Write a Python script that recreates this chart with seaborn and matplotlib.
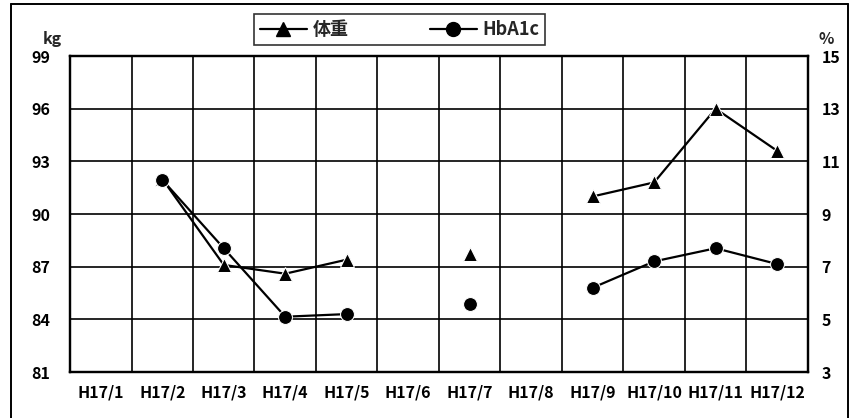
import numpy as np
import pandas as pd
import matplotlib
matplotlib.use("Agg")
import matplotlib.pyplot as plt
from matplotlib.lines import Line2D
import seaborn as sns

months = ["H17/1", "H17/2", "H17/3", "H17/4", "H17/5", "H17/6",
          "H17/7", "H17/8", "H17/9", "H17/10", "H17/11", "H17/12"]
weight = [None, 92.0, 87.1, 86.6, 87.4, None, 87.7, None, 91.0, 91.8, 96.0, 93.6]
hba1c = [None, 10.3, 7.7, 5.1, 5.2, None, 5.6, None, 6.2, 7.2, 7.7, 7.1]
kg_ticks = [81, 84, 87, 90, 93, 96, 99]
pct_ticks = [3, 5, 7, 9, 11, 13, 15]

sns.set_style("white")
plt.rcParams["font.family"] = ["Noto Sans CJK JP", "DejaVu Sans"]


def to_frame(values):
    # split the series into runs so gaps stay unconnected
    df = pd.DataFrame({"x": np.arange(len(months)), "y": values}, dtype=float)
    df["seg"] = df["y"].isna().cumsum()
    return df.dropna()


fig = plt.figure(figsize=(8.5, 4.18), dpi=100)
ax = fig.add_axes([0.0824, 0.110, 0.868, 0.756])
ax2 = ax.twinx()

sns.lineplot(data=to_frame(weight), x="x", y="y", units="seg", estimator=None,
             color="black", lw=1.6, marker="^", markersize=10, ax=ax)
sns.lineplot(data=to_frame(hba1c), x="x", y="y", units="seg", estimator=None,
             color="black", lw=1.6, marker="o", markersize=10, ax=ax2)

ax.set_xlim(-0.5, len(months) - 0.5)
ax.set_ylim(kg_ticks[0], kg_ticks[-1])
ax2.set_ylim(pct_ticks[0], pct_ticks[-1])
ax.set_yticks(kg_ticks)
ax2.set_yticks(pct_ticks)
ax.set_xticks(np.arange(len(months)))
ax.set_xticklabels(months)
ax.set_xlabel("")
ax.set_ylabel("")
ax2.set_ylabel("")

# grid: horizontal at ticks, vertical at category boundaries
for v in kg_ticks[1:-1]:
    ax.axhline(v, color="black", lw=1.2, zorder=0)
for b in np.arange(0.5, len(months) - 0.5, 1):
    ax.axvline(b, color="black", lw=1.2, zorder=0)

for a in (ax, ax2):
    for s in a.spines.values():
        s.set_color("black")
        s.set_linewidth(1.6)
    a.tick_params(length=0, labelsize=11.5, colors="black")
    for lab in a.get_xticklabels() + a.get_yticklabels():
        lab.set_fontweight("bold")
ax.tick_params(axis="y", pad=14)
ax2.tick_params(axis="y", pad=10)
ax.tick_params(axis="x", pad=9)

fig.text(0.050, 0.895, "kg", fontsize=11.5, fontweight="bold")
fig.text(0.963, 0.895, "%", fontsize=11.5, fontweight="bold")

handles = [
    Line2D([], [], color="black", lw=1.6, marker="^", markersize=10),
    Line2D([], [], color="black", lw=1.6, marker="o", markersize=10),
]
leg = fig.legend(handles, ["体重", "HbA1c"], loc="center",
                 bbox_to_anchor=(0.47, 0.929), ncol=2, frameon=True,
                 fancybox=False, edgecolor="black", handlelength=2.6,
                 handletextpad=0.3, columnspacing=4.5, borderpad=0.35,
                 prop={"weight": "bold", "size": 13})
leg.get_frame().set_linewidth(1.2)

# outer frame of the scanned figure
fig.add_artist(Line2D([0.013, 0.013], [0.0, 0.99], color="black", lw=1.4))
fig.add_artist(Line2D([0.013, 0.998], [0.99, 0.99], color="black", lw=1.4))
fig.add_artist(Line2D([0.998, 0.998], [0.0, 0.99], color="black", lw=1.4))

fig.savefig("out.png", dpi=100)
